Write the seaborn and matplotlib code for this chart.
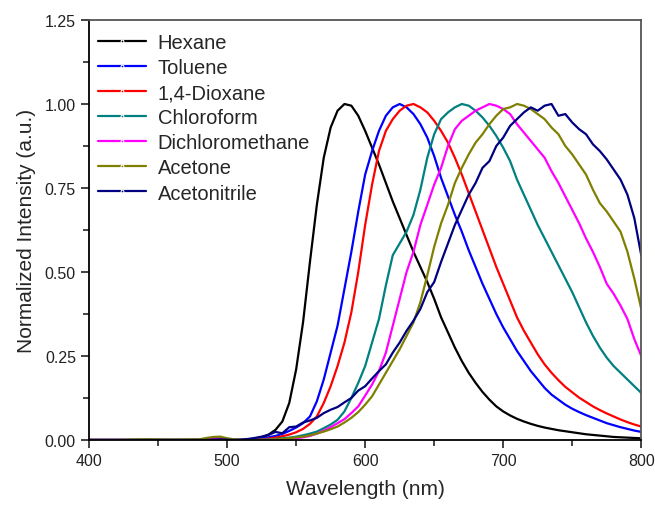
import numpy as np
import pandas as pd
import matplotlib
matplotlib.use("Agg")
import matplotlib.pyplot as plt
import seaborn as sns
from matplotlib.ticker import MultipleLocator


# wavelength grid (nm)
wavelength = [400, 420, 440, 460, 480, 485, 490, 495, 500,
              505, 510, 515, 520, 525, 530, 535, 540, 545, 550,
              555, 560, 565, 570, 575, 580, 585, 590, 595, 600,
              605, 610, 615, 620, 625, 630, 635, 640, 645, 650,
              655, 660, 665, 670, 675, 680, 685, 690, 695, 700,
              705, 710, 715, 720, 725, 730, 735, 740, 745, 750,
              755, 760, 765, 770, 775, 780, 785, 790, 795, 800]

solvents = ["Hexane", "Toluene", "1,4-Dioxane", "Chloroform",
            "Dichloromethane", "Acetone", "Acetonitrile"]
colors = ["#000000", "#0000ff", "#ff0000", "#008080",
          "#ff00ff", "#808000", "#000080"]

hexane = [0, 0, 0, 0, 0, 0, 0.002, 0.003, 0.001,
          0, 0, 0.001, 0.004, 0.008, 0.016, 0.03, 0.055, 0.11, 0.21,
          0.35, 0.53, 0.7, 0.84, 0.93, 0.98, 1.0, 0.995, 0.965, 0.92,
          0.87, 0.82, 0.765, 0.71, 0.66, 0.61, 0.56, 0.515, 0.47, 0.42,
          0.365, 0.32, 0.275, 0.235, 0.2, 0.17, 0.143, 0.12, 0.1, 0.085,
          0.073, 0.063, 0.055, 0.048, 0.042, 0.037, 0.033, 0.029, 0.026, 0.023,
          0.02, 0.017, 0.015, 0.013, 0.011, 0.009, 0.008, 0.007, 0.006, 0.005]

toluene = [0, 0, 0, 0, 0, 0, 0.002, 0.003, 0.001,
           0, 0, 0.001, 0.003, 0.005, 0.008, 0.012, 0.018, 0.027, 0.037,
           0.05, 0.07, 0.115, 0.18, 0.26, 0.34, 0.45, 0.56, 0.68, 0.79,
           0.86, 0.92, 0.965, 0.99, 1.0, 0.99, 0.97, 0.94, 0.9, 0.845,
           0.78, 0.725, 0.67, 0.62, 0.565, 0.515, 0.465, 0.42, 0.375, 0.335,
           0.3, 0.265, 0.235, 0.205, 0.18, 0.155, 0.135, 0.12, 0.105, 0.093,
           0.083, 0.074, 0.066, 0.058, 0.05, 0.044, 0.038, 0.033, 0.028, 0.024]

dioxane = [0, 0, 0, 0, 0, 0, 0.002, 0.003, 0.001,
           0, 0, 0, 0.001, 0.002, 0.004, 0.007, 0.011, 0.016, 0.023,
           0.033, 0.048, 0.07, 0.11, 0.16, 0.22, 0.29, 0.38, 0.5, 0.64,
           0.76, 0.86, 0.92, 0.955, 0.98, 0.995, 1.0, 0.99, 0.975, 0.95,
           0.92, 0.885, 0.84, 0.79, 0.735, 0.68, 0.625, 0.57, 0.515, 0.465,
           0.415, 0.365, 0.325, 0.29, 0.255, 0.225, 0.2, 0.178, 0.158, 0.142,
           0.126, 0.113, 0.1, 0.089, 0.079, 0.07, 0.061, 0.053, 0.046, 0.04]

chloroform = [0, 0, 0, 0, 0, 0, 0.002, 0.004, 0.001,
              0, 0, 0, 0, 0.001, 0.002, 0.003, 0.005, 0.007, 0.01,
              0.014, 0.019, 0.025, 0.035, 0.046, 0.06, 0.085, 0.125, 0.17, 0.22,
              0.29, 0.36, 0.46, 0.55, 0.585, 0.62, 0.67, 0.745, 0.84, 0.91,
              0.955, 0.975, 0.99, 1.0, 0.995, 0.98, 0.96, 0.935, 0.905, 0.87,
              0.83, 0.775, 0.73, 0.685, 0.64, 0.6, 0.56, 0.52, 0.48, 0.44,
              0.395, 0.35, 0.31, 0.275, 0.245, 0.22, 0.2, 0.18, 0.16, 0.14]

dcm = [0, 0, 0, 0, 0, 0.003, 0.006, 0.007, 0.003,
       0, 0, 0, 0, 0, 0, 0.001, 0.002, 0.003, 0.005,
       0.008, 0.012, 0.019, 0.028, 0.038, 0.05, 0.062, 0.08, 0.1, 0.132,
       0.165, 0.205, 0.26, 0.34, 0.42, 0.5, 0.56, 0.64, 0.7, 0.76,
       0.81, 0.875, 0.925, 0.95, 0.965, 0.98, 0.99, 1.0, 0.995, 0.985,
       0.97, 0.94, 0.915, 0.89, 0.865, 0.84, 0.8, 0.765, 0.725, 0.685,
       0.645, 0.6, 0.56, 0.515, 0.465, 0.435, 0.4, 0.36, 0.3, 0.25]

acetone = [0, 0, 0.002, 0.001, 0.002, 0.006, 0.009, 0.01, 0.005,
           0.002, 0.001, 0, 0, 0, 0.001, 0.002, 0.003, 0.005, 0.008,
           0.01, 0.014, 0.019, 0.025, 0.032, 0.04, 0.052, 0.066, 0.083, 0.105,
           0.13, 0.165, 0.2, 0.235, 0.27, 0.31, 0.35, 0.41, 0.49, 0.575,
           0.645, 0.7, 0.765, 0.81, 0.85, 0.885, 0.91, 0.94, 0.965, 0.985,
           0.99, 1.0, 0.995, 0.985, 0.97, 0.955, 0.93, 0.91, 0.875, 0.85,
           0.82, 0.79, 0.745, 0.705, 0.68, 0.65, 0.62, 0.56, 0.48, 0.39]

acetonitrile = [0, 0, 0, 0, 0, 0, 0.001, 0.002, 0.001,
                0, 0.001, 0.003, 0.006, 0.01, 0.015, 0.024, 0.02, 0.038, 0.04,
                0.052, 0.058, 0.066, 0.08, 0.09, 0.098, 0.112, 0.125, 0.147, 0.16,
                0.183, 0.205, 0.225, 0.26, 0.29, 0.325, 0.355, 0.39, 0.44, 0.47,
                0.53, 0.585, 0.64, 0.685, 0.73, 0.765, 0.81, 0.83, 0.875, 0.9,
                0.935, 0.955, 0.975, 0.99, 0.98, 0.995, 1.0, 0.965, 0.97, 0.945,
                0.925, 0.91, 0.88, 0.86, 0.835, 0.805, 0.775, 0.73, 0.66, 0.55]

series = [hexane, toluene, dioxane, chloroform, dcm, acetone, acetonitrile]

frames = []
for name, vals in zip(solvents, series):
    frames.append(pd.DataFrame({"Wavelength": wavelength, "Intensity": vals, "Solvent": name}))
df = pd.concat(frames, ignore_index=True)

sns.set_style("ticks")
plt.rcParams["font.family"] = ["Liberation Sans", "DejaVu Sans"]

fig = plt.figure(figsize=(6.55, 5.06), dpi=100)
ax = fig.add_axes([0.136, 0.1285, 0.843, 0.83])

sns.lineplot(data=df, x="Wavelength", y="Intensity", hue="Solvent",
             hue_order=solvents, palette=colors, estimator=None,
             linewidth=1.6, ax=ax)

ax.set_xlim(400, 800)
ax.set_ylim(0, 1.25)
ax.xaxis.set_major_locator(MultipleLocator(100))
ax.xaxis.set_minor_locator(MultipleLocator(50))
ax.yaxis.set_major_locator(MultipleLocator(0.25))
ax.yaxis.set_minor_locator(MultipleLocator(0.125))
ax.yaxis.set_major_formatter(matplotlib.ticker.FormatStrFormatter("%.2f"))
ax.tick_params(which="major", direction="out", length=6, width=1.2, labelsize=11.5,
               colors="#222222")
ax.tick_params(which="minor", direction="out", length=4, width=1.2)
ax.tick_params(top=False, right=False, which="both")

for side in ["left", "bottom"]:
    ax.spines[side].set_color("black")
    ax.spines[side].set_linewidth(1.3)
for side in ["top", "right"]:
    ax.spines[side].set_visible(True)
    ax.spines[side].set_color("#555555")
    ax.spines[side].set_linewidth(1.3)

ax.set_xlabel("Wavelength (nm)", fontsize=15, labelpad=8)
ax.set_ylabel("Normalized Intensity (a.u.)", fontsize=15, labelpad=6)

leg = ax.legend(loc="upper left", bbox_to_anchor=(0.0, 0.99), frameon=False,
                fontsize=14.5, handlelength=2.4, handletextpad=0.55,
                labelspacing=0.3, borderaxespad=0.0, borderpad=0.45)
for h in leg.legend_handles:
    h.set_marker("o")
    h.set_markersize(2)
    h.set_linewidth(1.6)

fig.savefig("out.png", dpi=100)
